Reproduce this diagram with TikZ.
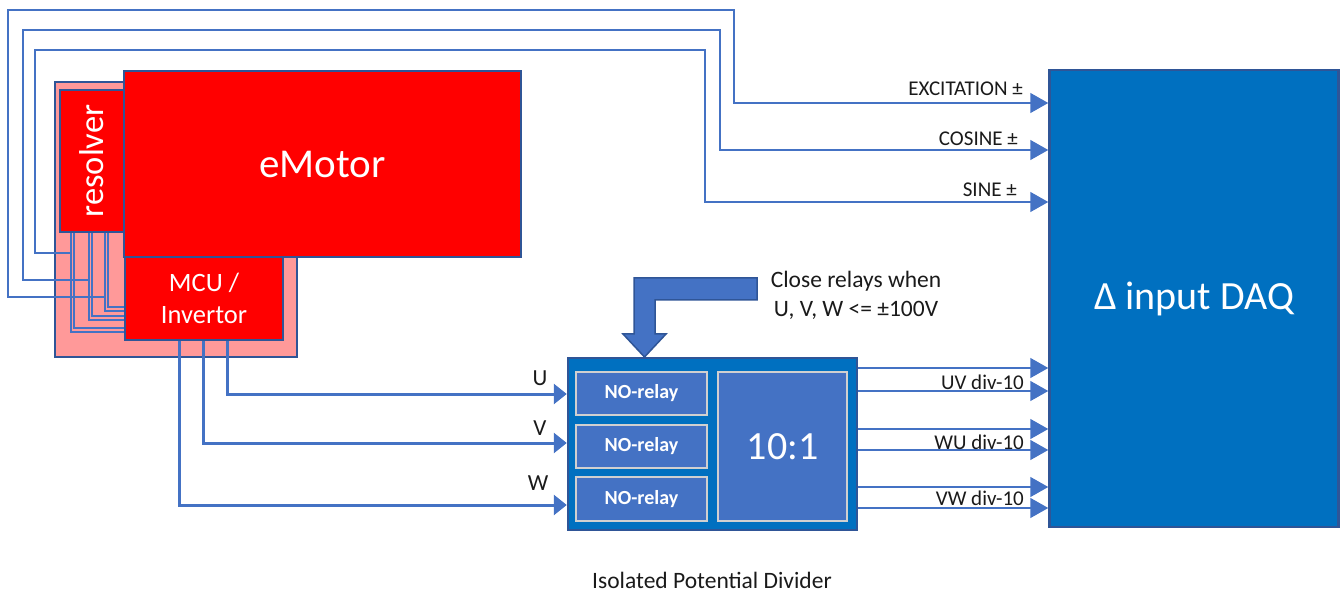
\documentclass[tikz,border=0pt]{standalone}
\usepackage{fontspec}
\setmainfont{Carlito}
\usetikzlibrary{arrows.meta}
\definecolor{wireblue}{HTML}{4472C4}
\definecolor{edgeblue}{HTML}{2F5597}
\definecolor{daqblue}{HTML}{0070C0}
\definecolor{pinkfill}{HTML}{FF9999}
\definecolor{relayedge}{HTML}{D0D0D0}
\definecolor{txt}{HTML}{1A1A1A}
\pgfdeclarelayer{back}
\pgfdeclarelayer{wires}
\pgfsetlayers{back,wires,main}
\begin{document}
\begin{tikzpicture}[x=1pt,y=-1pt,
  redbox/.style={draw=edgeblue,line width=2.5pt,fill=red,text=white,inner sep=0pt,rectangle},
  bluebox/.style={draw=edgeblue,line width=2.5pt,fill=daqblue,text=white,inner sep=0pt,rectangle},
  relaybox/.style={draw=relayedge,line width=2pt,fill=wireblue,text=white,inner sep=0pt,rectangle},
  wire/.style={draw=wireblue,line width=1.5pt},
  thinarrow/.style={wire,-{Triangle[length=18pt,width=20pt]}},
  phase/.style={draw=wireblue,line width=3pt,-{Triangle[length=13pt,width=20pt]}},
  lbl/.style={text=txt,inner sep=0pt,font=\fontsize{21}{22}\selectfont}
]
\useasboundingbox (0,0) rectangle (1341,593);
\node[redbox,minimum width=64,minimum height=142,font=\fontsize{34.5}{36}\selectfont] (res) at (92,161) {\rotatebox{90}{resolver}};
\node[redbox,minimum width=397,minimum height=186,font=\fontsize{41}{44}\selectfont] (emotor) at (322.5,164) {eMotor};
\node[redbox,minimum width=158,minimum height=83,align=center,font=\fontsize{26.5}{32}\selectfont] (mcu) at (204,298.5) {MCU /\\Invertor};
\begin{pgfonlayer}{back}
\node[draw=edgeblue,line width=2.5pt,fill=pinkfill,minimum width=242,minimum height=275,inner sep=0pt] (house) at (176,219.5) {};
\end{pgfonlayer}
\begin{pgfonlayer}{wires}
\draw[wire] (res.south -| 71,0) |- (mcu.west |- 0,332);
\draw[wire] (res.south -| 74,0) |- (mcu.west |- 0,328);
\draw[wire] (res.south -| 89,0) |- (mcu.west |- 0,320);
\draw[wire] (res.south -| 92,0) |- (mcu.west |- 0,316);
\draw[wire] (res.south -| 105,0) |- (mcu.west |- 0,311);
\draw[wire] (res.south -| 108,0) |- (mcu.west |- 0,307);
\end{pgfonlayer}
% DAQ
\node[bluebox,minimum width=289,minimum height=457,font=\fontsize{40}{44}\selectfont] (daq) at (1194,298.5) {Δ input DAQ};
% divider
\node[bluebox,minimum width=289,minimum height=172] (div) at (712.5,444) {};
\node[relaybox,minimum width=131,minimum height=43,font=\bfseries\fontsize{20}{22}\selectfont] (r1) at (641.5,393.5) {NO-relay};
\node[relaybox,minimum width=131,minimum height=43,font=\bfseries\fontsize{20}{22}\selectfont] (r2) at (641.5,446.5) {NO-relay};
\node[relaybox,minimum width=131,minimum height=44,font=\bfseries\fontsize{20}{22}\selectfont] (r3) at (641.5,499) {NO-relay};
\node[relaybox,minimum width=129,minimum height=149,font=\fontsize{40}{44}\selectfont] (ratio) at (782.5,446.5) {10:1};
% resolver signal loops
\coordinate (jA) at (72,253);
\coordinate (jB) at (89,280);
\coordinate (jC) at (106,297);
\draw[thinarrow] (jC) -| (8,10) -| (734,103) -- (daq.west |- 0,103);
\draw[thinarrow] (jB) -| (23,30) -| (720,150) -- (daq.west |- 0,150);
\draw[thinarrow] (jA) -| (35,50) -| (705,202) -- (daq.west |- 0,202);
\node[lbl,anchor=east] (lexc) at (1023,89) {EXCITATION ±};
\node[lbl,anchor=east] (lcos) at (1018,139) {COSINE ±};
\node[lbl,anchor=east] (lsin) at (1017,190) {SINE ±};
% phases
\draw[phase] (mcu.south -| 227,0) |- (div.west |- 0,394);
\draw[phase] (mcu.south -| 203,0) |- (div.west |- 0,443);
\draw[phase] (mcu.south -| 179,0) |- (div.west |- 0,505);
\node[lbl,font=\fontsize{23}{24}\selectfont] (lu) at (540,378) {U};
\node[lbl,font=\fontsize{23}{24}\selectfont] (lv) at (540,428) {V};
\node[lbl,font=\fontsize{23}{24}\selectfont] (lw) at (538,483) {W};
% outputs
\foreach \yy in {368,391,429,450,487,508}{
  \draw[thinarrow] (div.east |- 0,\yy) -- (daq.west |- 0,\yy);
}
\node[lbl,anchor=east] (luv) at (1024,382) {UV div-10};
\node[lbl,anchor=east] (lwu) at (1024,442) {WU div-10};
\node[lbl,anchor=east] (lvw) at (1024,498) {VW div-10};
% control arrow
\draw[draw=edgeblue,line width=1.5pt,fill=wireblue,line join=miter]
  (757,278) -- (634,278) -- (634,334) -- (623,334) -- (644.5,357) -- (666,334) -- (655,334) -- (655,300) -- (757,300) -- cycle;
\node[lbl,align=center,font=\fontsize{23.5}{29}\selectfont] (ctl) at (856,295) {Close relays when\\U, V, W <= ±100V};
\node[lbl,font=\fontsize{23.5}{24}\selectfont] (title) at (712,580) {Isolated Potential Divider};
\end{tikzpicture}
\end{document}
